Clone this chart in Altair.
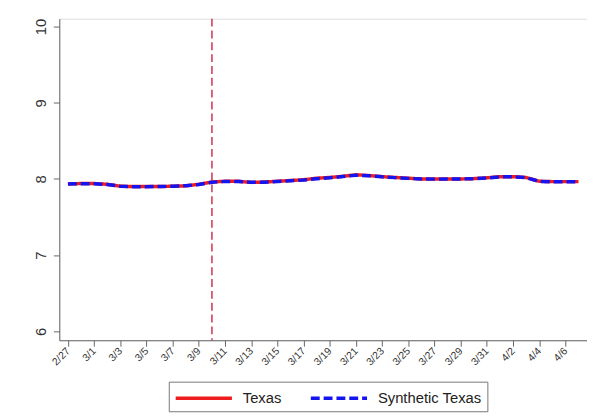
import altair as alt
import pandas as pd

dates = ["2/27", "2/28", "3/1", "3/2", "3/3", "3/4", "3/5", "3/6", "3/7", "3/8",
         "3/9", "3/10", "3/11", "3/12", "3/13", "3/14", "3/15", "3/16", "3/17", "3/18",
         "3/19", "3/20", "3/21", "3/22", "3/23", "3/24", "3/25", "3/26", "3/27", "3/28",
         "3/29", "3/30", "3/31", "4/1", "4/2", "4/3", "4/4", "4/5", "4/6", "4/7"]
texas = [7.935, 7.94, 7.94, 7.93, 7.905, 7.90, 7.90, 7.90, 7.905, 7.91,
         7.93, 7.96, 7.97, 7.97, 7.955, 7.96, 7.97, 7.98, 7.99, 8.01,
         8.02, 8.035, 8.055, 8.045, 8.03, 8.02, 8.01, 8.0, 8.0, 8.0,
         8.0, 8.005, 8.015, 8.03, 8.03, 8.02, 7.97, 7.965, 7.965, 7.965]
synthetic = [7.933, 7.938, 7.937, 7.928, 7.904, 7.899, 7.899, 7.901, 7.904, 7.912,
             7.928, 7.958, 7.968, 7.968, 7.956, 7.958, 7.966, 7.976, 7.986, 8.004,
             8.015, 8.032, 8.05, 8.043, 8.028, 8.018, 8.008, 7.999, 7.998, 7.999,
             8.0, 8.004, 8.013, 8.028, 8.029, 8.018, 7.968, 7.964, 7.964, 7.964]
tick_labels = dates[::2]
treatment_date = "3/10"
series_names = ["Texas", "Synthetic Texas"]

rows = []
for i, d in enumerate(dates):
    rows.append({"day": i, "date": d, "value": texas[i], "series": series_names[0]})
for i, d in enumerate(dates):
    rows.append({"day": i, "date": d, "value": synthetic[i], "series": series_names[1]})
df = pd.DataFrame(rows)

label_array = "[" + ",".join("'%s'" % t for t in tick_labels) + "]"

x_enc = alt.X("day:Q",
              scale=alt.Scale(domain=[-0.66, 39.65], nice=False, zero=False),
              axis=alt.Axis(values=list(range(0, len(dates), 2)),
                            labelExpr=label_array + "[round(datum.value/2)]",
                            labelAngle=-45, labelAlign="right", labelBaseline="middle",
                            labelFontSize=10.5, tickSize=6, title=None, grid=False,
                            labelOverlap=False, labelBound=False, labelFlush=False,
                            domainColor="#666", tickColor="#666", labelColor="#333",
                            labelPadding=3))
y_enc = alt.Y("value:Q",
              scale=alt.Scale(domain=[5.883, 10.104], nice=False, zero=False),
              axis=alt.Axis(values=[6, 7, 8, 9, 10], labelAngle=-90, labelAlign="center",
                            labelBaseline="bottom", labelFontSize=15, tickSize=6,
                            title=None, grid=False, domainColor="#666", tickColor="#666",
                            labelColor="#333", labelPadding=5))

color_scale = alt.Scale(domain=series_names, range=["#ee1c1c", "#1414f0"])
dash_scale = alt.Scale(domain=series_names, range=[[1, 0], [9, 4]])

legend = alt.Legend(title=None, orient="none", legendX=111, legendY=368,
                    direction="horizontal", columns=2, symbolType="M-3,0H3",
                    symbolSize=361, symbolStrokeWidth=3.5, symbolOffset=19,
                    labelFontSize=15, labelColor="#222", strokeColor="#777",
                    padding=5, columnPadding=22, labelOffset=28, fillColor="white")

base = alt.Chart(df)

texas_line = base.transform_filter(alt.datum.series == series_names[0]).mark_line(strokeWidth=3.5).encode(
    x=x_enc, y=y_enc,
    color=alt.Color("series:N", scale=color_scale, legend=legend),
    strokeDash=alt.StrokeDash("series:N", scale=dash_scale, legend=legend),
)
synth_line = base.transform_filter(alt.datum.series == series_names[1]).mark_line(strokeWidth=3.5).encode(
    x=x_enc, y=y_enc,
    color=alt.Color("series:N", scale=color_scale, legend=legend),
    strokeDash=alt.StrokeDash("series:N", scale=dash_scale, legend=legend),
)

vline = alt.Chart(pd.DataFrame({"day": [dates.index(treatment_date)]})).mark_rule(
    color="#d2304e", strokeWidth=1.5, strokeDash=[8, 4]).encode(x=x_enc)

chart = alt.layer(vline, texas_line, synth_line).properties(
    width=535, height=326,
    autosize=alt.AutoSizeParams(type="none"),
    padding={"left": 52, "top": 8, "right": 0, "bottom": 77},
).configure_view(stroke=None).configure_axisX(labelOverlap=False).configure(font="Liberation Sans")

chart.save("out.html", embed_options={"renderer": "svg", "actions": False})
